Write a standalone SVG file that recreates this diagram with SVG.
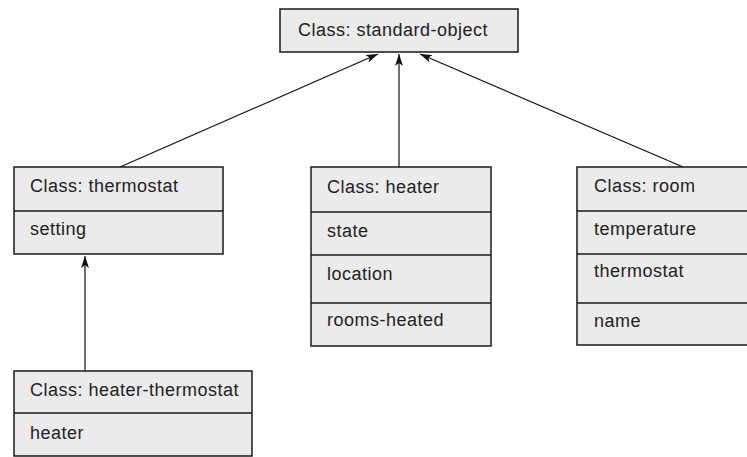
<svg xmlns="http://www.w3.org/2000/svg" width="747" height="457" viewBox="0 0 747 457">
<defs>
<marker id="ah" viewBox="0 0 12 8" refX="12" refY="4" markerWidth="12" markerHeight="8" markerUnits="userSpaceOnUse" orient="auto">
<path d="M0,0 L12,4 L0,8 L3,4 Z" fill="#111"/>
</marker>
</defs>
<style>
.box{fill:#ebebeb;stroke:#1a1a1a;stroke-width:1.5}
.div{stroke:#1a1a1a;stroke-width:1.5}
text{font-family:"Liberation Sans",Arial,sans-serif;font-size:18px;letter-spacing:0.5px;fill:#222}
.conn line{stroke:#111;stroke-width:1.2;marker-end:url(#ah)}
</style>
<rect width="747" height="457" fill="#fff"/>
<g class="conn">
<line x1="120" y1="167" x2="378" y2="54"/>
<line x1="399" y1="167" x2="399" y2="54"/>
<line x1="683" y1="167" x2="420" y2="54"/>
<line x1="85" y1="371" x2="85" y2="256"/>
</g>
<g id="standard-object">
<rect class="box" x="280" y="9" width="238" height="43"/>
<text x="298" y="36">Class: standard-object</text>
</g>
<g id="thermostat">
<rect class="box" x="14" y="167" width="209" height="87"/>
<line class="div" x1="14" y1="211" x2="223" y2="211"/>
<text x="30" y="192">Class: thermostat</text>
<text x="30" y="235">setting</text>
</g>
<g id="heater">
<rect class="box" x="311" y="167" width="180" height="179"/>
<line class="div" x1="311" y1="212" x2="491" y2="212"/>
<line class="div" x1="311" y1="255" x2="491" y2="255"/>
<line class="div" x1="311" y1="303" x2="491" y2="303"/>
<text x="327" y="193">Class: heater</text>
<text x="327" y="237">state</text>
<text x="327" y="280">location</text>
<text x="327" y="326">rooms-heated</text>
</g>
<g id="room">
<rect class="box" x="577" y="167" width="172" height="178"/>
<line class="div" x1="577" y1="211" x2="747" y2="211"/>
<line class="div" x1="577" y1="254" x2="747" y2="254"/>
<line class="div" x1="577" y1="303" x2="747" y2="303"/>
<text x="594" y="192">Class: room</text>
<text x="594" y="235">temperature</text>
<text x="594" y="277">thermostat</text>
<text x="594" y="327">name</text>
</g>
<g id="heater-thermostat">
<rect class="box" x="14" y="371" width="238" height="85"/>
<line class="div" x1="14" y1="413" x2="252" y2="413"/>
<text x="30" y="396">Class: heater-thermostat</text>
<text x="30" y="439">heater</text>
</g>
</svg>
